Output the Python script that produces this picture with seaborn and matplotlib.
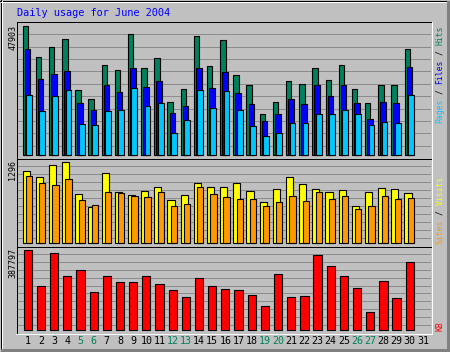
import numpy as np
import matplotlib
matplotlib.use("Agg")
import matplotlib.pyplot as plt
import seaborn as sns

# ---------------- data ----------------
days = list(range(1, 31))
day_labels = [str(d) for d in range(1, 32)]
weekend_days = [5, 6, 12, 13, 19, 20, 26, 27]

hits = [47903, 36280, 40000, 42960, 24020, 20680, 33300, 31450, 44820, 32190,
        35910, 19570, 24400, 44070, 32940, 42590, 29590, 25880, 15110, 19570,
        27370, 26250, 32190, 27740, 33310, 24400, 19200, 25880, 25880, 39250]
files = [39250, 28100, 29970, 31190, 19190, 16590, 25870, 23390, 32190, 25140,
         27370, 15480, 18080, 32190, 24770, 30710, 22910, 18820, 12510, 15230,
         20800, 18820, 25880, 21800, 25880, 19200, 13260, 19570, 19200, 32570]
pages = [22170, 16230, 21800, 24020, 11390, 11020, 16230, 16590, 24770, 18080,
         19190, 8060, 12880, 24020, 17340, 23650, 16590, 10660, 7170, 8060,
         11770, 11770, 15230, 15110, 16590, 15110, 11030, 12140, 11770, 22170]
visits = [1152, 1056, 1253, 1296, 784, 576, 1120, 816, 768, 832,
          896, 688, 768, 960, 896, 896, 960, 832, 656, 864,
          1056, 944, 864, 816, 848, 592, 816, 880, 864, 800]
sites = [1072, 960, 928, 1024, 688, 608, 816, 800, 752, 736,
         816, 592, 624, 896, 784, 736, 704, 704, 592, 656,
         752, 672, 816, 704, 752, 544, 592, 752, 704, 720]
kbytes = [387797, 212600, 373200, 261300, 290500, 183400, 261300, 232100, 232100, 261300,
          222400, 193200, 160600, 251600, 212600, 198000, 193200, 168800, 115300, 271000,
          159100, 164000, 363500, 310000, 261300, 202900, 86100, 237000, 154300, 329400]

title = "Daily usage for June 2004"

# ---------------- style ----------------
GREY = "#C0C0C0"
DKGREY = "#808080"
GRID = "#8C8C8C"
C_HITS = "#00805C"
C_FILES = "#0000FF"
C_PAGES = "#00C8FF"
C_VISITS = "#FFFF00"
C_SITES = "#FF9900"
C_KB = "#FF0000"
WEEKEND = "#00805C"

sns.set_theme(style="white")
plt.rcParams["font.family"] = ["DejaVu Sans Mono", "DejaVu Sans"]

W, H = 450, 352
fig = plt.figure(figsize=(W / 100, H / 100), dpi=100)
fig.patch.set_facecolor(GREY)

LEFT, RIGHT = 17, 431
SLOT = 13.17
C1 = 27.8  # pixel centre of day 1
XLIM = (1 - (C1 - LEFT) / SLOT, 1 + (RIGHT - C1) / SLOT)


def add_panel(top, bot):
    ax = fig.add_axes([LEFT / W, 1 - bot / H, (RIGHT - LEFT) / W, (bot - top) / H])
    ax.set_facecolor("none")
    for s in ax.spines.values():
        s.set_visible(False)
    ax.set_xlim(*XLIM)
    ax.hlines(np.arange(1, 11) / 11, 0, 1, transform=ax.transAxes,
              color=GRID, lw=0.72, zorder=0.5, antialiased=False)
    return ax


def set_ylim_px(ax, top, bot, base_px, max_px, vmax):
    scale = vmax / (base_px - max_px)
    ax.set_ylim(-(bot - base_px) * scale, vmax + (max_px - top) * scale)


def bars(ax, vals, color, width_px, offset_px, z):
    xs = np.asarray(days, dtype=float) + offset_px / SLOT
    sns.barplot(x=xs, y=vals, ax=ax, native_scale=True, width=width_px / SLOT,
                color=color, saturation=1, edgecolor="black", linewidth=0.8,
                errorbar=None, zorder=z)


# top panel
ax1 = add_panel(22, 158)
bars(ax1, hits, C_HITS, 5.4, -2.5, 2)
bars(ax1, files, C_FILES, 5.6, -0.3, 3)
bars(ax1, pages, C_PAGES, 5.8, 1.2, 4)
set_ylim_px(ax1, 22, 158, 155, 26, max(hits))

# middle panel
ax2 = add_panel(158, 246)
bars(ax2, visits, C_VISITS, 7.2, -1.7, 2)
bars(ax2, sites, C_SITES, 6.3, 1.3, 3)
set_ylim_px(ax2, 158, 246, 243.3, 162.3, max(visits))

# bottom panel
ax3 = add_panel(246, 333)
bars(ax3, kbytes, C_KB, 8.3, 0, 2)
set_ylim_px(ax3, 246, 333, 330, 250.3, max(kbytes))

for ax in (ax1, ax2, ax3):
    ax.set_xlim(*XLIM)
    ax.set_ylabel("")
    ax.set_xlabel("")
    ax.set_yticks([])
    ax.tick_params(length=0)
    if ax is not ax3:
        ax.set_xticks([])

ax3.set_xticks(range(1, 32))
ax3.set_xticklabels(day_labels, fontsize=7.2)
ax3.tick_params(axis="x", pad=2.4, length=0)
for lab, d in zip(ax3.get_xticklabels(), range(1, 32)):
    lab.set_color(WEEKEND if d in weekend_days else "black")

# overlay in pixel coordinates for frame and labels
ov = fig.add_axes([0, 0, 1, 1], zorder=10)
ov.set_xlim(0, W)
ov.set_ylim(H, 0)
ov.axis("off")
ov.patch.set_visible(False)


def hline(y, x0, x1, c, lw=1):
    ov.plot([x0, x1], [y, y], color=c, lw=0.72 * lw, antialiased=False, solid_capstyle="butt")


def vline(x, y0, y1, c, lw=1):
    ov.plot([x, x], [y0, y1], color=c, lw=0.72 * lw, antialiased=False, solid_capstyle="butt")


# outer bevel
hline(0.5, 0, W, "black")
vline(0.5, 0, H, "black")
hline(1.5, 1, W - 1, "white")
vline(1.5, 1, H - 1, "white")
hline(H - 2, 1, W, DKGREY, 3)
vline(W - 2, 1, H, DKGREY, 3)
hline(H - 0.5, 0, W, "black")
vline(W - 0.5, 0, H, "black")

# inner plot frame
hline(21.5, LEFT, RIGHT + 1, "black")
vline(LEFT - 0.5, 21.5, 333.5, "black")
hline(333.5, LEFT - 1, RIGHT + 1, "white")
vline(RIGHT + 0.5, 21.5, 333.5, "white")
hline(158.5, LEFT, RIGHT, "black")
hline(246.5, LEFT, RIGHT, "black")

# title
ov.text(LEFT, 16, title, color="#0000FF", fontsize=7.4, ha="left", va="baseline")

# left max labels (rotated)
for ytop, val in ((24.5, max(hits)), (160, max(visits)), (248, max(kbytes))):
    ov.text(15.5, ytop, str(val), rotation=90, rotation_mode="anchor",
            ha="right", va="baseline", fontsize=6, color="black")

FS_R = 5.8
ADV = 0.602 * FS_R / 72 * 100  # monospace advance in pixels


def multi_vertical(x, ybottom, parts):
    pos = 0
    for p, c in parts:
        stripped = p.strip()
        lead = len(p) - len(p.lstrip())
        ov.text(x, ybottom - (pos + lead) * ADV, stripped, rotation=90,
                rotation_mode="anchor", ha="left", va="center",
                fontsize=FS_R, color=c)
        pos += len(p)


multi_vertical(440, 123, [("Pages", C_PAGES), (" / ", "black"), ("Files", C_FILES),
                          (" / ", "black"), ("Hits", C_HITS)])
multi_vertical(440, 244, [("Sites", C_SITES), (" / ", "black"), ("Visits", C_VISITS)])
multi_vertical(440, 331, [("KB", C_KB)])

fig.savefig("out.png", dpi=100, facecolor=GREY)
